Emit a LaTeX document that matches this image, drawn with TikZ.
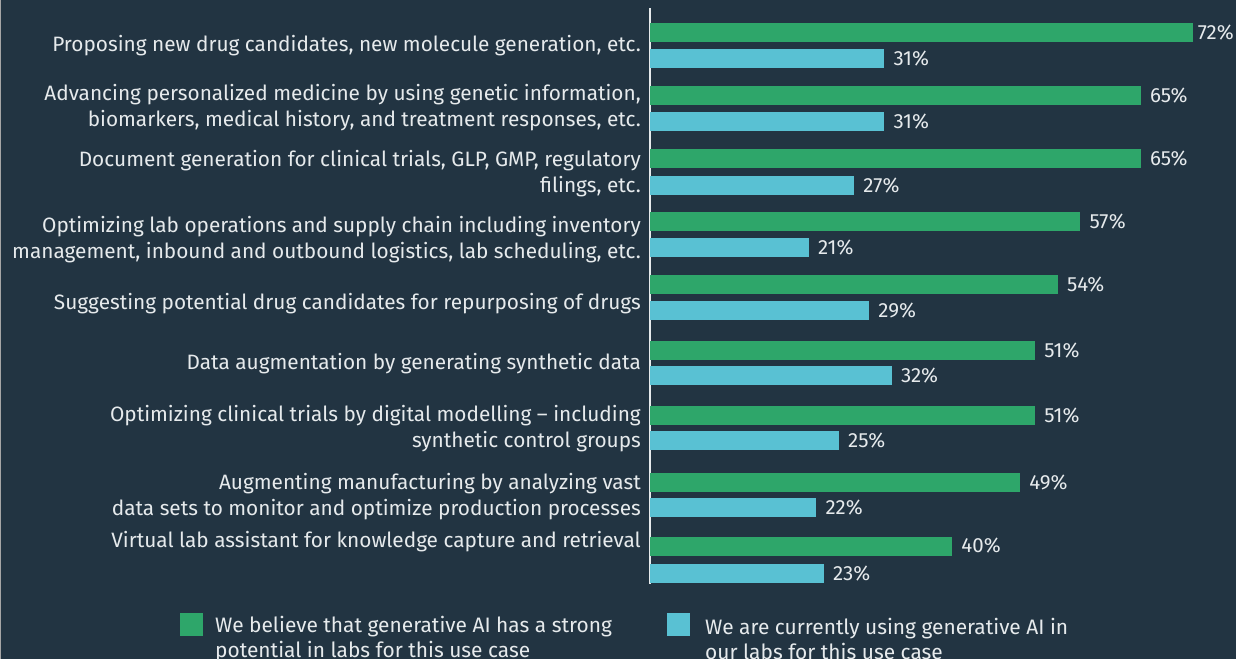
\documentclass[tikz,border=0pt]{standalone}
\usepackage{fontspec}
\setmainfont{Fira Sans}
\usetikzlibrary{positioning}
\definecolor{bgnavy}{RGB}{34,52,66}
\definecolor{potgreen}{RGB}{46,166,106}
\definecolor{usecyan}{RGB}{89,193,211}
\definecolor{txtgrey}{RGB}{230,234,236}
\newcommand{\pctw}{7.545pt}
\tikzstyle{casetext} = [
    anchor=east,
    align=right,
    inner sep=0pt,
    yshift=-1.5pt,
    text=txtgrey,
    font=\fontsize{20.8}{26}\selectfont
]
\tikzstyle{potbar} = [
    rectangle,
    anchor=west,
    inner sep=0pt,
    minimum height=19pt,
    fill=potgreen
]
\tikzstyle{usebar} = [potbar, fill=usecyan]
\tikzstyle{pct} = [
    inner sep=0pt,
    text=txtgrey,
    font=\fontsize{20.5}{22}\selectfont
]
\tikzstyle{legbox} = [rectangle, inner sep=0pt, minimum size=23pt]
\tikzstyle{legtext} = [
    anchor=west,
    align=left,
    inner sep=0pt,
    yshift=-1.5pt,
    text=txtgrey,
    font=\fontsize{20.9}{25}\selectfont
]
\tikzstyle{axis} = [txtgrey, line width=1.2pt]

\begin{document}
\begin{tikzpicture}[x=1pt, y=-1pt]

\fill[bgnavy] (0,0) rectangle (1236,659);
\useasboundingbox (0,0) rectangle (1236,659);
\draw[gray!70, line width=1pt] (0.6,0) -- (0.6,659);

\coordinate (axtop) at (650,8);
\coordinate (axbot) at (650,584);
\draw[axis] (axtop) -- (axbot);

% use cases
\node (c1) [casetext] at (641,44) {Proposing new drug candidates, new molecule generation, etc.};
\node (c2) [casetext] at (641,106) {Advancing personalized medicine by using genetic information,\\ biomarkers, medical history, and treatment responses, etc.};
\node (c3) [casetext] at (641,172.5) {Document generation for clinical trials, GLP, GMP, regulatory\\ filings, etc.};
\node (c4) [casetext] at (641,238) {Optimizing lab operations and supply chain including inventory\\ management, inbound and outbound logistics, lab scheduling, etc.};
\node (c5) [casetext] at (641,302) {Suggesting potential drug candidates for repurposing of drugs};
\node (c6) [casetext] at (641,362) {Data augmentation by generating synthetic data};
\node (c7) [casetext] at (641,427.5) {Optimizing clinical trials by digital modelling -- including\\ synthetic control groups};
\node (c8) [casetext] at (641,495.5) {Augmenting manufacturing by analyzing vast\\ data sets to monitor and optimize production processes};
\node (c9) [casetext] at (641,540) {Virtual lab assistant for knowledge capture and retrieval};

% strong potential
\node (g1) [potbar, minimum width=72*\pctw] at (650,32.5) {};
\node (g2) [potbar, minimum width=65*\pctw] at (650,95.5) {};
\node (g3) [potbar, minimum width=65*\pctw] at (650,158.5) {};
\node (g4) [potbar, minimum width=57*\pctw] at (650,221.5) {};
\node (g5) [potbar, minimum width=54*\pctw] at (650,284.5) {};
\node (g6) [potbar, minimum width=51*\pctw] at (650,350.5) {};
\node (g7) [potbar, minimum width=51*\pctw] at (650,415.5) {};
\node (g8) [potbar, minimum width=49*\pctw] at (650,482.5) {};
\node (g9) [potbar, minimum width=40*\pctw] at (650,546) {};

% currently using
\node (u1) [usebar, minimum width=31*\pctw] at (650,58.5) {};
\node (u2) [usebar, minimum width=31*\pctw] at (650,121.5) {};
\node (u3) [usebar, minimum width=27*\pctw] at (650,185.5) {};
\node (u4) [usebar, minimum width=21*\pctw] at (650,247.5) {};
\node (u5) [usebar, minimum width=29*\pctw] at (650,310.5) {};
\node (u6) [usebar, minimum width=32*\pctw] at (650,375.5) {};
\node (u7) [usebar, minimum width=25*\pctw] at (650,440.5) {};
\node (u8) [usebar, minimum width=22*\pctw] at (650,507.5) {};
\node (u9) [usebar, minimum width=23*\pctw] at (650,573.5) {};

\node (g1v) [pct, right=4pt of g1] {72\%};
\node (g2v) [pct, right=9pt of g2] {65\%};
\node (g3v) [pct, right=9pt of g3] {65\%};
\node (g4v) [pct, right=9pt of g4] {57\%};
\node (g5v) [pct, right=9pt of g5] {54\%};
\node (g6v) [pct, right=9pt of g6] {51\%};
\node (g7v) [pct, right=9pt of g7] {51\%};
\node (g8v) [pct, right=9pt of g8] {49\%};
\node (g9v) [pct, right=9pt of g9] {40\%};

\node (u1v) [pct, right=9pt of u1] {31\%};
\node (u2v) [pct, right=9pt of u2] {31\%};
\node (u3v) [pct, right=9pt of u3] {27\%};
\node (u4v) [pct, right=9pt of u4] {21\%};
\node (u5v) [pct, right=9pt of u5] {29\%};
\node (u6v) [pct, right=9pt of u6] {32\%};
\node (u7v) [pct, right=9pt of u7] {25\%};
\node (u8v) [pct, right=9pt of u8] {22\%};
\node (u9v) [pct, right=9pt of u9] {23\%};

% legend
\node (lg1) [legbox, fill=potgreen] at (191,624.5) {};
\node (lg1t) [legtext] at (215,637.5) {We believe that generative AI has a strong\\ potential in labs for this use case};
\node (lg2) [legbox, fill=usecyan] at (678.5,624.5) {};
\node (lg2t) [legtext] at (705,637.5) {We are currently using generative AI in\\ our labs for this use case};

\end{tikzpicture}
\end{document}
